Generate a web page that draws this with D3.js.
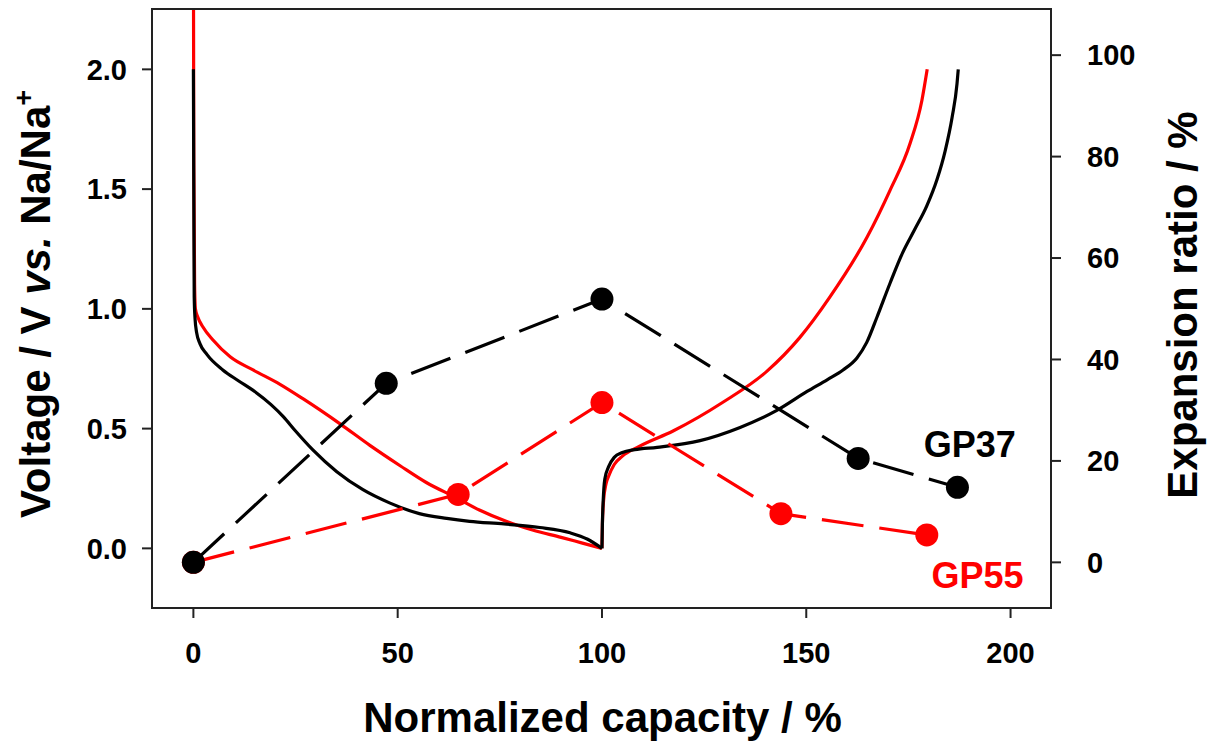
<!DOCTYPE html>
<html>
<head>
<meta charset="utf-8">
<script src="https://cdn.jsdelivr.net/npm/d3@7"></script>
<style>
  html, body { margin: 0; padding: 0; background: #fff; }
  svg text { font-family: "Liberation Sans", Arial, sans-serif; font-weight: bold; }
</style>
</head>
<body>
<svg id="chart" width="1209" height="745"></svg>
<script>
// ---- Data ----
const voltGP37Discharge = [[0,2.0],[0.1,1.5],[0.2,1.05],[0.4,0.96],[0.8,0.90],[1.6,0.855],[3.3,0.81],[7.2,0.745],[11,0.70],[15,0.655],[19,0.60],[22,0.55],[25,0.49],[29.3,0.41],[35.1,0.32],[41.5,0.245],[48,0.19],[55.3,0.145],[62,0.125],[67.6,0.113],[76,0.102],[84.8,0.087],[92.2,0.065],[96.5,0.038],[100,0.0]];
const voltGP37Charge = [[100,0],[100.1,0.1],[100.3,0.2],[100.7,0.29],[101.6,0.34],[103,0.38],[105,0.40],[108,0.412],[113.5,0.422],[124,0.45],[133.8,0.505],[142.8,0.576],[150.2,0.655],[155.2,0.705],[159,0.745],[162.4,0.795],[164.8,0.86],[167.3,0.965],[170.5,1.107],[173.6,1.235],[176.5,1.33],[179.5,1.43],[182,1.54],[184,1.66],[185.7,1.80],[186.9,1.94],[187.2,2.0]];
const voltGP55Discharge = [[0,2.6],[0.1,1.6],[0.3,1.1],[0.5,1.0],[1.1,0.965],[2.3,0.925],[4.8,0.87],[9,0.80],[14.6,0.745],[21.2,0.685],[26.8,0.625],[35.9,0.52],[43.2,0.43],[50.6,0.345],[57,0.275],[64.5,0.21],[70,0.16],[76.7,0.112],[83,0.077],[90,0.046],[95,0.023],[100,0]];
const voltGP55Charge = [[100,0],[100.1,0.1],[100.4,0.2],[101,0.27],[101.6,0.30],[103,0.35],[105,0.385],[109,0.425],[117.4,0.49],[129.6,0.61],[140.4,0.74],[148.4,0.88],[155.8,1.05],[164.9,1.30],[170.5,1.495],[175.4,1.69],[178.3,1.87],[179.6,2.0]];

const expCapGP37 = [0, 47.2, 100, 162.7, 187.0];
const expValGP37 = [0, 35.3, 51.9, 20.5, 14.8];
const expCapGP55 = [0, 64.8, 100, 143.8, 179.5];
const expValGP55 = [0, 13.4, 31.5, 9.6, 5.4];

const xTicks = [0, 50, 100, 150, 200];
const yLeftTicks = [0, 0.5, 1.0, 1.5, 2.0];
const yRightTicks = [0, 20, 40, 60, 80, 100];

// ---- Layout ----
const svg = d3.select("#chart");
const L = 152, T = 9, R = 1051, B = 608;

const x = d3.scaleLinear().domain([-10.13, 209.9]).range([L, R]);
const yL = d3.scaleLinear().domain([-0.249, 2.252]).range([B, T]);
const yR = d3.scaleLinear().domain([-9.0, 109.1]).range([B, T]);

svg.append("defs").append("clipPath").attr("id", "clip")
  .append("rect").attr("x", L).attr("y", T).attr("width", R - L).attr("height", B - T);

const plot = svg.append("g").attr("clip-path", "url(#clip)");

const vline = d3.line().x(d => x(d[0])).y(d => yL(d[1])).curve(d3.curveMonotoneX);

// voltage curves
[[voltGP55Discharge, "#ff0000"], [voltGP55Charge, "#ff0000"], [voltGP37Discharge, "#000"], [voltGP37Charge, "#000"]]
  .forEach(([data, col]) => {
    plot.append("path").attr("d", vline(data)).attr("fill", "none")
      .attr("stroke", col).attr("stroke-width", 3.2).attr("stroke-linejoin", "round");
  });

// expansion lines
const eline = d3.line().x(d => x(d[0])).y(d => yR(d[1]));
function drawExp(caps, vals, col) {
  const pts = caps.map((c, i) => [c, vals[i]]);
  plot.append("path").attr("d", eline(pts)).attr("fill", "none")
    .attr("stroke", col).attr("stroke-width", 3.2).attr("stroke-dasharray", "42,16");
  plot.selectAll(null).data(pts).enter().append("circle")
    .attr("cx", d => x(d[0])).attr("cy", d => yR(d[1])).attr("r", 11.5).attr("fill", col);
}
drawExp(expCapGP55, expValGP55, "#ff0000");
drawExp(expCapGP37, expValGP37, "#000");

// frame
svg.append("rect").attr("x", L).attr("y", T).attr("width", R - L).attr("height", B - T)
  .attr("fill", "none").attr("stroke", "#222").attr("stroke-width", 2);

// axes
const tickFont = "29px";
const gx = svg.append("g");
xTicks.forEach(t => {
  gx.append("line").attr("x1", x(t)).attr("x2", x(t)).attr("y1", B).attr("y2", B + 10).attr("stroke", "#222").attr("stroke-width", 2);
  gx.append("text").attr("x", x(t)).attr("y", 663).attr("text-anchor", "middle").style("font-size", tickFont).text(t);
});
yLeftTicks.forEach(t => {
  svg.append("line").attr("x1", L - 10).attr("x2", L).attr("y1", yL(t)).attr("y2", yL(t)).attr("stroke", "#222").attr("stroke-width", 2);
  svg.append("text").attr("x", 127).attr("y", yL(t)).attr("dy", "0.35em").attr("text-anchor", "end").style("font-size", tickFont).text(d3.format(".1f")(t));
});
yRightTicks.forEach(t => {
  svg.append("line").attr("x1", R).attr("x2", R + 10).attr("y1", yR(t)).attr("y2", yR(t)).attr("stroke", "#222").attr("stroke-width", 2);
  svg.append("text").attr("x", 1087).attr("y", yR(t)).attr("dy", "0.35em").attr("text-anchor", "start").style("font-size", tickFont).text(t);
});

// axis titles
svg.append("text").attr("x", (L + R) / 2 + 1).attr("y", 732).attr("text-anchor", "middle")
  .style("font-size", "42px").text("Normalized capacity / %");

const lt = svg.append("text").attr("transform", "translate(50,304) rotate(-90)").attr("text-anchor", "middle")
  .style("font-size", "42px");
lt.append("tspan").text("Voltage / V ");
lt.append("tspan").style("font-style", "italic").text("vs.");
lt.append("tspan").text(" Na/Na");
lt.append("tspan").attr("dy", "-17").style("font-size", "27px").text("+");

svg.append("text").attr("transform", "translate(1197,305) rotate(-90)").attr("text-anchor", "middle")
  .style("font-size", "42px").text("Expansion ratio / %");

// series labels
svg.append("text").attr("x", x(201.3)).attr("y", 457).attr("text-anchor", "end")
  .style("font-size", "36px").attr("fill", "#000").text("GP37");
svg.append("text").attr("x", x(203.2)).attr("y", 588).attr("text-anchor", "end")
  .style("font-size", "36px").attr("fill", "#ff0000").text("GP55");
</script>
</body>
</html>
